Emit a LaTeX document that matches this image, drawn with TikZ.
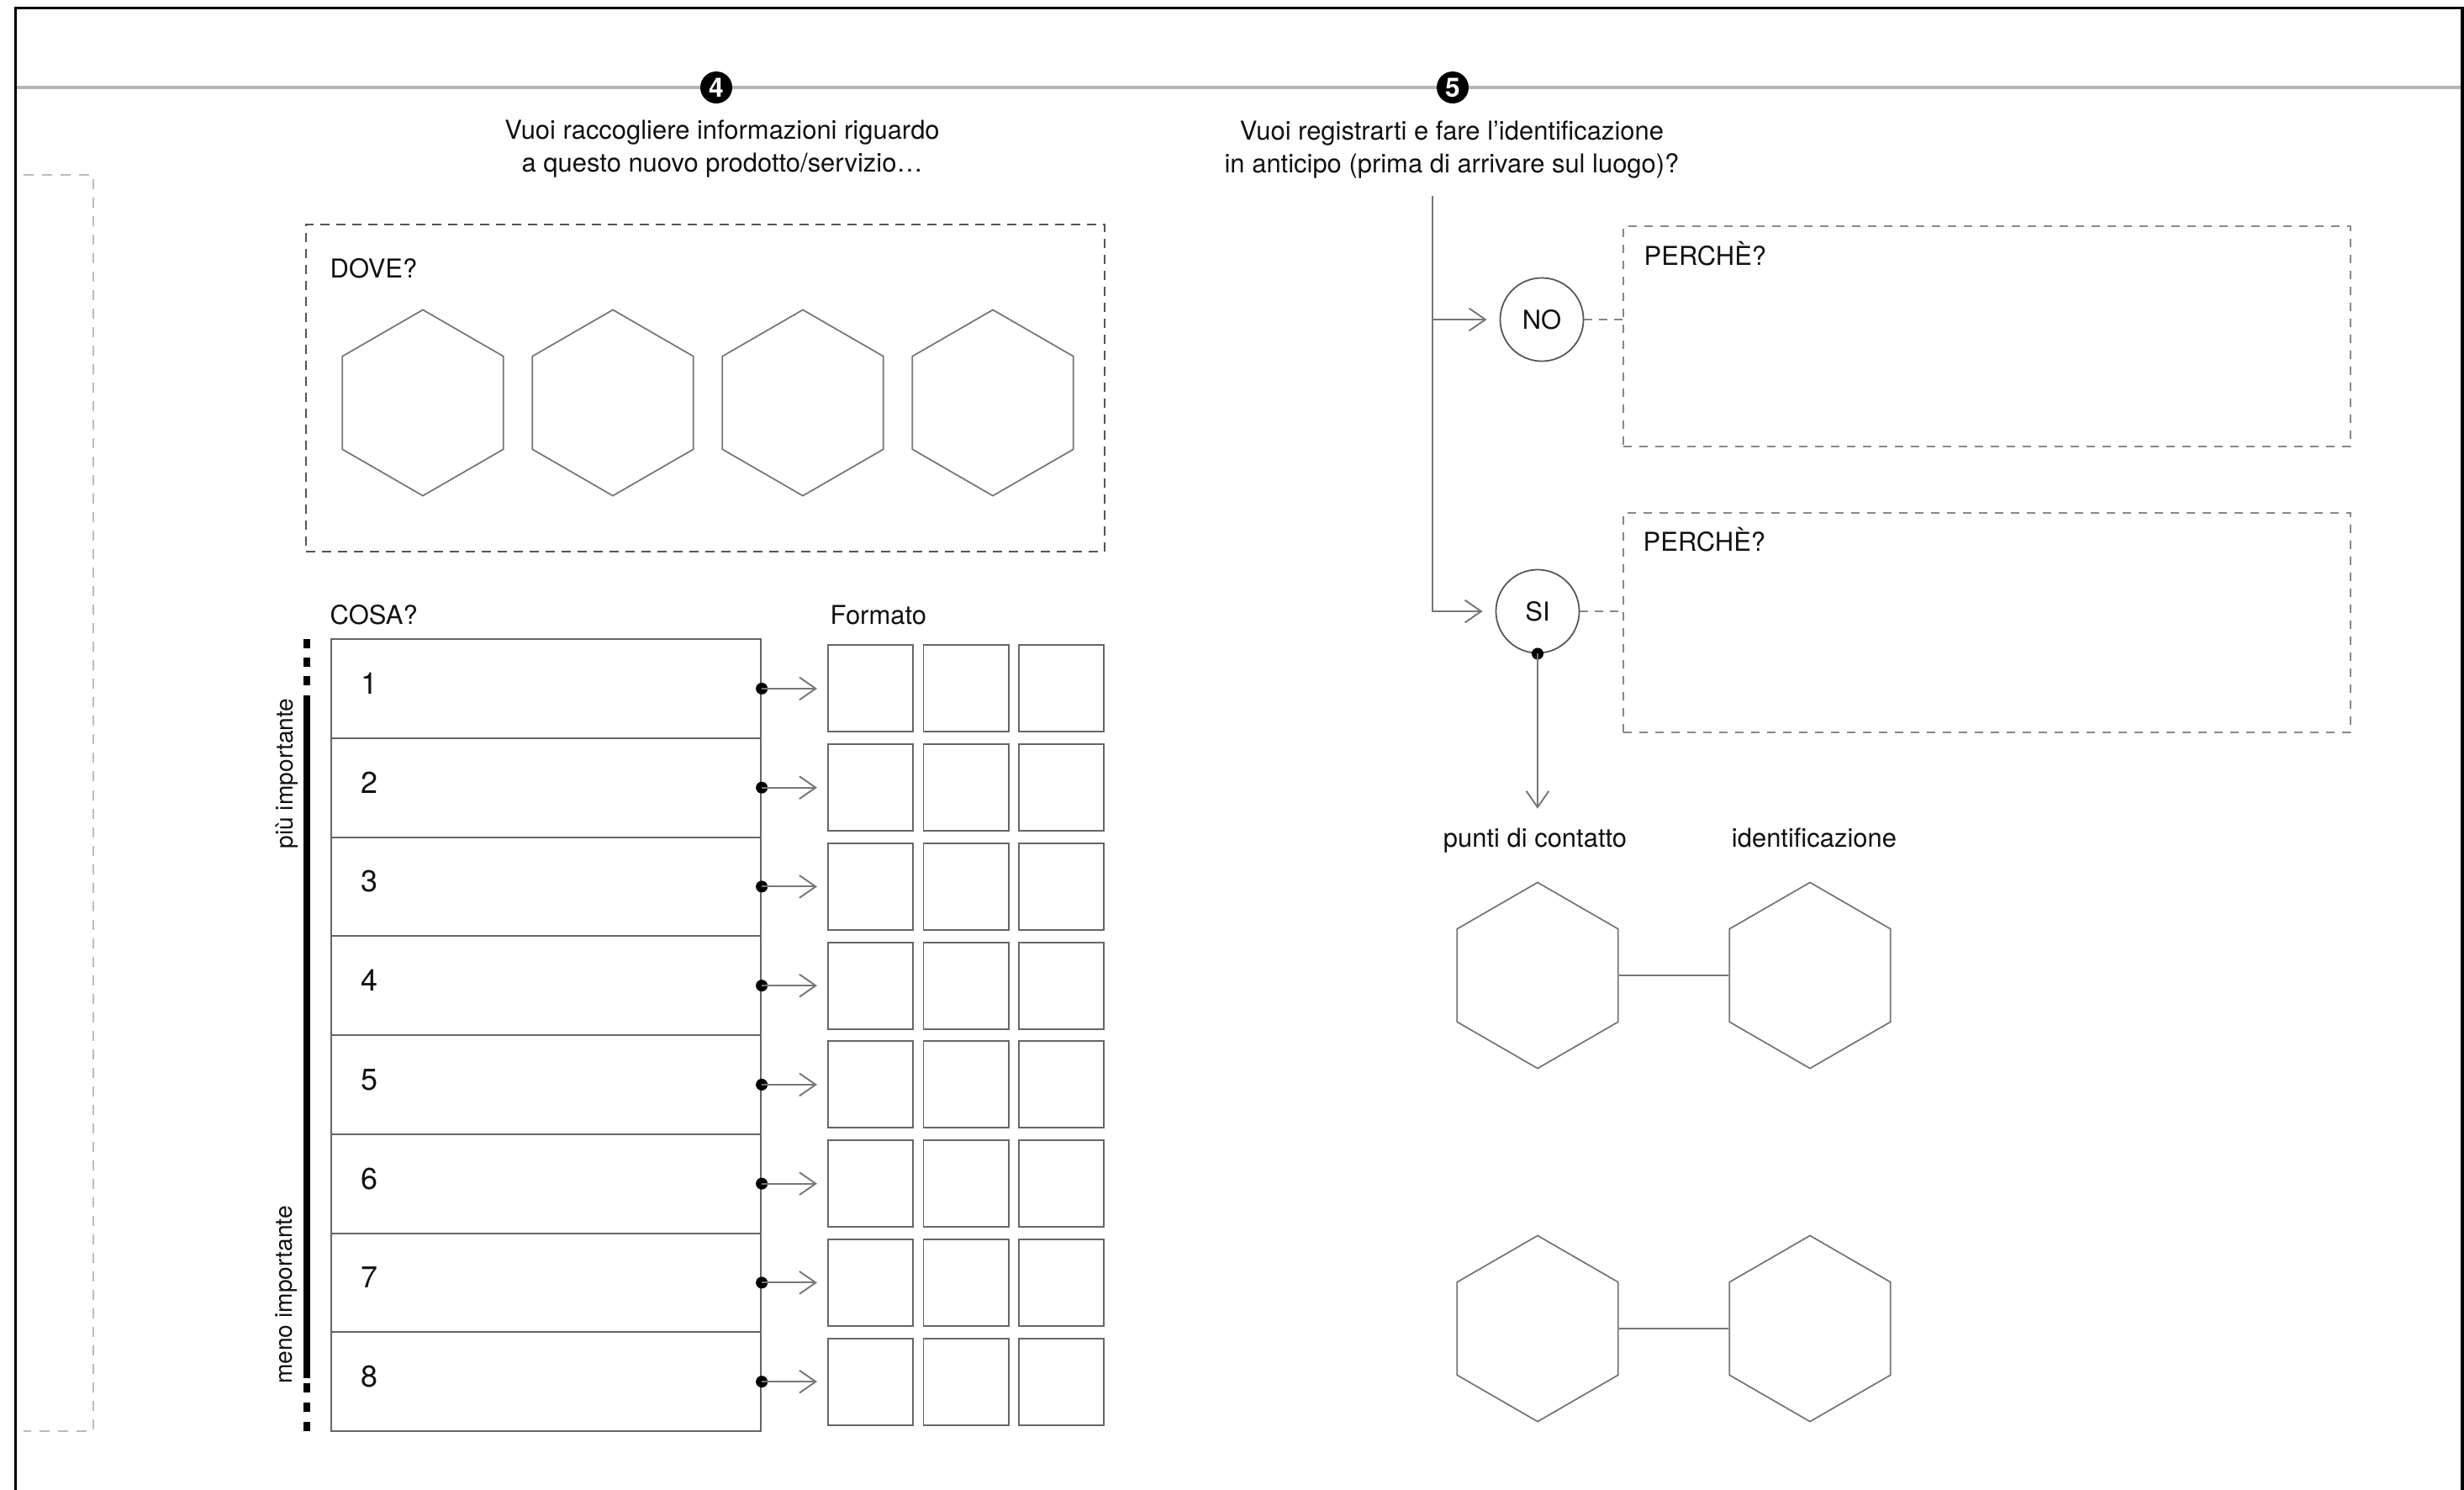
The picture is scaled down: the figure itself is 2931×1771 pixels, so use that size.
\documentclass[tikz,border=0pt]{standalone}
\usepackage{fontspec}
\setmainfont{TeX Gyre Heros}
\usetikzlibrary{arrows.meta,shapes.geometric}
\definecolor{ink}{HTML}{111111}
\definecolor{boxgray}{HTML}{666666}
\definecolor{hexgray}{HTML}{777777}
\definecolor{conngray}{HTML}{777777}
\definecolor{dashdark}{HTML}{555555}
\definecolor{dashmid}{HTML}{888888}
\definecolor{dashlight}{HTML}{BBBBBB}
\definecolor{rulegray}{HTML}{B5B5B5}
\begin{document}
\begin{tikzpicture}[x=0.01cm,y=-0.01cm,
  font=\fontsize{8.8}{11}\selectfont,
  txt/.style={text=ink, inner sep=0pt},
  numlab/.style={text=ink, inner sep=0pt, anchor=west, font=\fontsize{10.2}{12}\selectfont},
  sidelab/.style={text=ink, inner sep=0pt, rotate=90, font=\fontsize{8}{9.6}\selectfont},
  badge/.style={circle, fill=black, minimum size=0.38cm, inner sep=0pt, text=white, font=\fontsize{9}{9}\selectfont\bfseries},
  hexa/.style={draw=hexgray, line width=0.5pt, regular polygon, regular polygon sides=6, regular polygon rotate=30, minimum size=2.21cm, inner sep=0pt},
  fmt/.style={draw=boxgray, line width=0.55pt, minimum width=1.01cm, minimum height=1.03cm, inner sep=0pt},
  rowbox/.style={draw=boxgray, line width=0.55pt, minimum width=5.11cm, minimum height=1.1775cm, inner sep=0pt},
  choice/.style={circle, draw=dashdark, line width=0.5pt, minimum size=0.99cm, inner sep=0pt, text=ink},
  arr/.style={draw=conngray, line width=0.55pt, -{Straight Barb[length=5.5pt,width=7.6pt]}},
  conn/.style={draw=conngray, line width=0.55pt},
  dot/.style={circle, fill=black, inner sep=0pt, minimum size=0.14cm},
  dovebox/.style={draw=dashdark, line width=0.55pt, dash pattern=on 0.11cm off 0.08cm, inner sep=0pt},
  whybox/.style={draw=dashmid, line width=0.55pt, dash pattern=on 0.1cm off 0.09cm, inner sep=0pt},
  whylink/.style={draw=dashmid, line width=0.55pt, dash pattern=on 0.1cm off 0.08cm},
  lightdash/.style={draw=dashlight, line width=0.6pt, dash pattern=on 0.12cm off 0.1cm},
]
\useasboundingbox (0,0) rectangle (2931,1771);
\fill[white] (0,0) rectangle (2931,1771);

% frame and top rule
\draw[rulegray, line width=1pt] (18,104) -- (2929,104);
\draw[black, line width=1.1pt] (18.5,1800) -- (18.5,9.5) -- (2929,9.5) -- (2929,1800);

% left partial dashed outline
\draw[lightdash] (28,208) -- (111,208) -- (111,1702) -- (28,1702);

% section 4
\node[badge] (n4) at (852,104) {4};
\node[txt, align=center] (q4) at (859,177) {Vuoi raccogliere informazioni riguardo\\a questo nuovo prodotto/servizio…};

\node[dovebox, minimum width=9.5cm, minimum height=3.89cm] (dove) at (839,461.5) {};
\node[txt, anchor=base west] (dovelab) at (392,330) {DOVE?};
\foreach \k/\xx in {1/503,2/729,3/955,4/1181}{
  \node[hexa] (dh\k) at (\xx,479) {};
}

\node[txt, anchor=base west] (cosalab) at (392,742) {COSA?};
\node[txt, anchor=base west] (fmtlab) at (987,742) {Formato};

\foreach \i in {1,...,8}{
  \pgfmathsetmacro\yc{760+(\i-0.5)*117.75}
  \node[rowbox] (r\i) at (649.5,\yc) {};
  \node[numlab] (num\i) at (429,\yc-6) {\i};
  \foreach \j/\xx in {1/1035.5,2/1149,3/1262.5}{
    \node[fmt] (f\i-\j) at (\xx,\yc) {};
  }
  \node[dot] (d\i) at (r\i.east) {};
  \draw[arr, shorten >=0.12cm] (d\i.center) -- (f\i-1.west);
}

% importance bar
\draw[black, line width=2.3pt] (365,827) -- (365,1639);
\draw[black, line width=2.3pt, dash pattern=on 0.11cm off 0.11cm] (365,760) -- (365,816);
\draw[black, line width=2.3pt, dash pattern=on 0.11cm off 0.12cm] (365,1645) -- (365,1702);
\node[sidelab] (piu) at (341,920) {più importante};
\node[sidelab] (meno) at (341,1540) {meno importante};

% section 5
\node[badge] (n5) at (1728,104) {5};
\node[txt, align=center] (q5) at (1727,178) {Vuoi registrarti e fare l’identificazione\\in anticipo (prima di arrivare sul luogo)?};

\node[choice] (no) at (1834,380) {NO};
\node[choice] (si) at (1829,727) {SI};
\node[whybox, minimum width=8.65cm, minimum height=2.62cm] (p1) at (2363.5,400) {};
\node[whybox, minimum width=8.65cm, minimum height=2.61cm] (p2) at (2363.5,740.5) {};
\node[txt, anchor=base west] (p1lab) at (1955,315) {PERCHÈ?};
\node[txt, anchor=base west] (p2lab) at (1954,655) {PERCHÈ?};

\coordinate (vtop) at (1704,233);
\draw[arr, shorten >=0.15cm] (vtop) |- (si.west);
\draw[arr, shorten >=0.15cm] (vtop |- no.west) -- (no.west);
\draw[whylink] (no.east) -- (no.east -| p1.west);
\draw[whylink] (si.east) -- (si.east -| p2.west);

\node[txt, anchor=base] (pdc) at (1826,1007) {punti di contatto};
\node[txt, anchor=base] (idf) at (2158,1007) {identificazione};
\node[dot] (sid) at (si.south) {};
\draw[arr, shorten >=0.22cm] (sid.center) -- (sid.center |- pdc.north);

\node[hexa] (ha1) at (1829,1160) {};
\node[hexa] (hb1) at (2153,1160) {};
\draw[conn] (ha1.east) -- (hb1.west);
\node[hexa] (ha2) at (1829,1580) {};
\node[hexa] (hb2) at (2153,1580) {};
\draw[conn] (ha2.east) -- (hb2.west);
\end{tikzpicture}
\end{document}
